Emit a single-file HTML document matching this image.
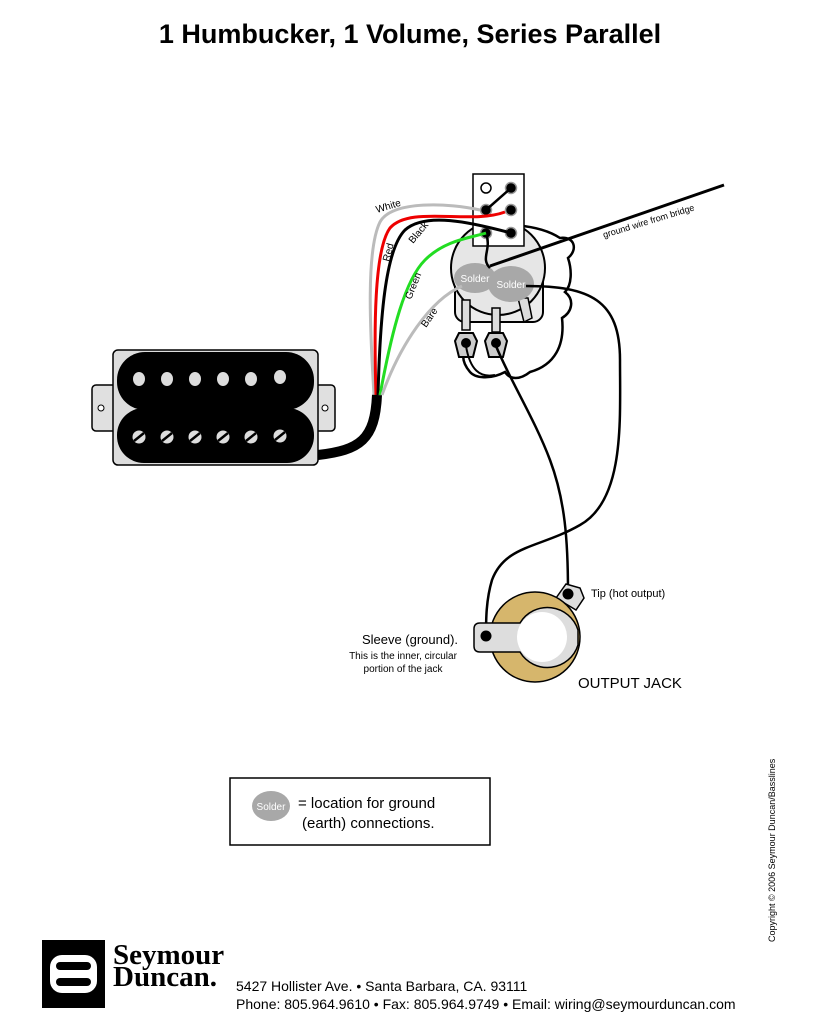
<!DOCTYPE html>
<html><head><meta charset="utf-8"><style>
body{margin:0;background:#fff;width:819px;height:1036px;overflow:hidden}
svg{display:block}
</style></head><body>
<svg width="819" height="1036" viewBox="0 0 819 1036" font-family="Liberation Sans, sans-serif">
<text x="410" y="43" text-anchor="middle" font-size="27" font-weight="bold">1 Humbucker, 1 Volume, Series Parallel</text>

<!-- pot back outline -->
<path d="M470,232 C500,220 540,225 560,238 C575,236 578,250 568,258 C572,270 572,285 565,292 C575,300 572,312 562,318 C565,345 555,365 530,372 C520,380 510,380 505,372 C490,380 475,378 470,372 C460,360 462,350 470,345" fill="none" stroke="#000" stroke-width="2.5"/>
<!-- pot body -->
<rect x="455" y="260" width="88" height="62" rx="10" fill="#ececec" stroke="#000" stroke-width="2"/>
<circle cx="498" cy="268" r="47" fill="#e6e6e6" stroke="#000" stroke-width="2"/>
<rect x="462" y="300" width="8" height="30" fill="#ddd" stroke="#000" stroke-width="1.5"/>
<rect x="492" y="308" width="8" height="24" fill="#ddd" stroke="#000" stroke-width="1.5"/>
<path d="M518,298 l10,0 l4,20 l-8,4 z" fill="#ddd" stroke="#000" stroke-width="1.5"/>
<path d="M459,333 l14,0 l4,8 l-4,16 l-14,0 l-4,-16 z" fill="#ccc" stroke="#000" stroke-width="2"/>
<circle cx="466" cy="343" r="5" fill="#000"/>
<path d="M489,333 l14,0 l4,8 l-4,16 l-14,0 l-4,-16 z" fill="#ccc" stroke="#000" stroke-width="2"/>
<circle cx="496" cy="343" r="5" fill="#000"/>
<ellipse cx="475" cy="278" rx="21" ry="15" fill="#a8a8a8"/>
<text x="475" y="282" text-anchor="middle" font-size="10" fill="#fff">Solder</text>
<ellipse cx="511" cy="284" rx="23" ry="18" fill="#a8a8a8"/>
<text x="511" y="288" text-anchor="middle" font-size="10" fill="#fff">Solder</text>

<!-- switch -->
<rect x="473" y="174" width="51" height="72" fill="#fff" stroke="#000" stroke-width="1.5"/>
<circle cx="486" cy="188" r="5" fill="#fff" stroke="#000" stroke-width="1.5"/>
<g fill="#000" stroke="#999" stroke-width="1.5">
<circle cx="511" cy="188" r="5.5"/><circle cx="486" cy="210" r="5.5"/><circle cx="511" cy="210" r="5.5"/>
<circle cx="486" cy="233" r="5.5"/><circle cx="511" cy="233" r="5.5"/></g>
<line x1="486" y1="210" x2="511" y2="188" stroke="#000" stroke-width="2.5"/>
<path d="M486,233 C492,250 480,258 490,268" fill="none" stroke="#000" stroke-width="2.5"/>

<line x1="490" y1="266" x2="724" y2="185" stroke="#000" stroke-width="3"/>
<text transform="translate(604,238) rotate(-17)" font-size="9">ground wire from bridge</text>

<!-- humbucker wires -->
<g fill="none" stroke-width="3">
<path d="M374,395 C370,330 366,250 380,222 C392,200 450,203 480,210" stroke="#bbb"/>
<path d="M376,395 C374,330 374,250 390,228 C410,205 470,225 505,212" stroke="#e00"/>
<path d="M378,395 C380,320 385,250 405,230 C425,212 470,222 511,233" stroke="#000"/>
<path d="M380,395 C392,330 405,280 425,260 C445,240 470,238 486,233" stroke="#2d2"/>
<path d="M382,395 C400,345 430,300 462,286" stroke="#bbb"/>
</g>
<g font-size="10">
<text transform="translate(377,213) rotate(-17)">White</text>
<text transform="translate(389,262) rotate(-75)">Red</text>
<text transform="translate(413,244) rotate(-50)">Black</text>
<text transform="translate(411,300) rotate(-68)">Green</text>
<text transform="translate(426,328) rotate(-55)">Bare</text>
</g>
<path d="M377,395 C375,440 360,450 318,455" fill="none" stroke="#000" stroke-width="10"/>

<!-- pickup -->
<rect x="92" y="385" width="243" height="46" rx="4" fill="#e0e0e0" stroke="#000" stroke-width="1.5"/>
<circle cx="101" cy="408" r="3" fill="#fff" stroke="#000"/>
<circle cx="325" cy="408" r="3" fill="#fff" stroke="#000"/>
<rect x="113" y="350" width="205" height="115" rx="5" fill="#ddd" stroke="#000" stroke-width="1.5"/>
<rect x="117" y="352" width="197" height="58" rx="28" fill="#000"/>
<rect x="117" y="408" width="197" height="55" rx="27" fill="#000"/>
<g fill="#ddd">
<ellipse cx="139" cy="379" rx="6" ry="7"/><ellipse cx="167" cy="379" rx="6" ry="7"/><ellipse cx="195" cy="379" rx="6" ry="7"/>
<ellipse cx="223" cy="379" rx="6" ry="7"/><ellipse cx="251" cy="379" rx="6" ry="7"/><ellipse cx="280" cy="377" rx="6" ry="7"/>
<circle cx="139" cy="437" r="6.5"/><circle cx="167" cy="437" r="6.5"/><circle cx="195" cy="437" r="6.5"/>
<circle cx="223" cy="437" r="6.5"/><circle cx="251" cy="437" r="6.5"/><circle cx="280" cy="436" r="6.5"/>
</g>
<g stroke="#000" stroke-width="2.5">
<line x1="134" y1="441" x2="144" y2="433"/><line x1="162" y1="441" x2="172" y2="433"/><line x1="190" y1="441" x2="200" y2="433"/>
<line x1="218" y1="441" x2="228" y2="433"/><line x1="246" y1="441" x2="256" y2="433"/><line x1="275" y1="440" x2="285" y2="432"/>
</g>

<!-- jack wires -->
<path d="M496,346 C510,380 535,420 550,460 C565,500 568,540 568,593" fill="none" stroke="#000" stroke-width="2.5"/>
<path d="M526,286 C590,286 620,300 620,360 C620,420 625,500 580,525 C540,548 505,545 492,580 C486,600 486,620 486,636" fill="none" stroke="#000" stroke-width="2.5"/>
<path d="M466,346 C470,370 480,378 495,375" fill="none" stroke="#000" stroke-width="2"/>

<!-- jack -->
<path d="M556,598 l10,-14 l14,4 l4,10 l-8,12 z" fill="#ddd" stroke="#000" stroke-width="1.5"/>
<circle cx="568" cy="594" r="5.5" fill="#000"/>
<circle cx="535" cy="637" r="45" fill="#d6b66c" stroke="#000" stroke-width="1.5"/>
<path d="M480,623 L520,623 A32,32 0 0 1 578,630 L578,645 A32,32 0 0 1 520,652 L480,652 Q474,652 474,646 L474,629 Q474,623 480,623 z" fill="#ddd" stroke="#000" stroke-width="1.5"/>
<circle cx="542" cy="637" r="25" fill="#fff"/>
<circle cx="486" cy="636" r="5.5" fill="#000"/>
<text x="591" y="597" font-size="11">Tip (hot output)</text>
<text x="410" y="644" text-anchor="middle" font-size="13">Sleeve (ground).</text>
<text x="403" y="659" text-anchor="middle" font-size="10">This is the inner, circular</text>
<text x="403" y="672" text-anchor="middle" font-size="10">portion of the jack</text>
<text x="578" y="688" font-size="15">OUTPUT JACK</text>

<rect x="230" y="778" width="260" height="67" fill="#fff" stroke="#000" stroke-width="1.5"/>
<ellipse cx="271" cy="806" rx="19" ry="15" fill="#a8a8a8"/>
<text x="271" y="810" text-anchor="middle" font-size="10" fill="#fff">Solder</text>
<text x="298" y="808" font-size="15">= location for ground</text>
<text x="302" y="828" font-size="15">(earth) connections.</text>

<text transform="translate(775,942) rotate(-90)" font-size="9">Copyright © 2006 Seymour Duncan/Basslines</text>

<rect x="42" y="940" width="63" height="68" fill="#000"/>
<rect x="50" y="955" width="47" height="38" rx="12" fill="#fff"/>
<rect x="56" y="962" width="35" height="8" rx="4" fill="#000"/>
<rect x="56" y="978" width="35" height="8" rx="4" fill="#000"/>
<text x="113" y="964" font-family="Liberation Serif, serif" font-weight="bold" font-size="29">Seymour</text>
<text x="113" y="986" font-family="Liberation Serif, serif" font-weight="bold" font-size="29">Duncan.</text>
<text x="236" y="991" font-size="14">5427 Hollister Ave. • Santa Barbara, CA. 93111</text>
<text x="236" y="1009" font-size="14">Phone: 805.964.9610 • Fax: 805.964.9749 • Email: wiring@seymourduncan.com</text>
</svg>
</body></html>
